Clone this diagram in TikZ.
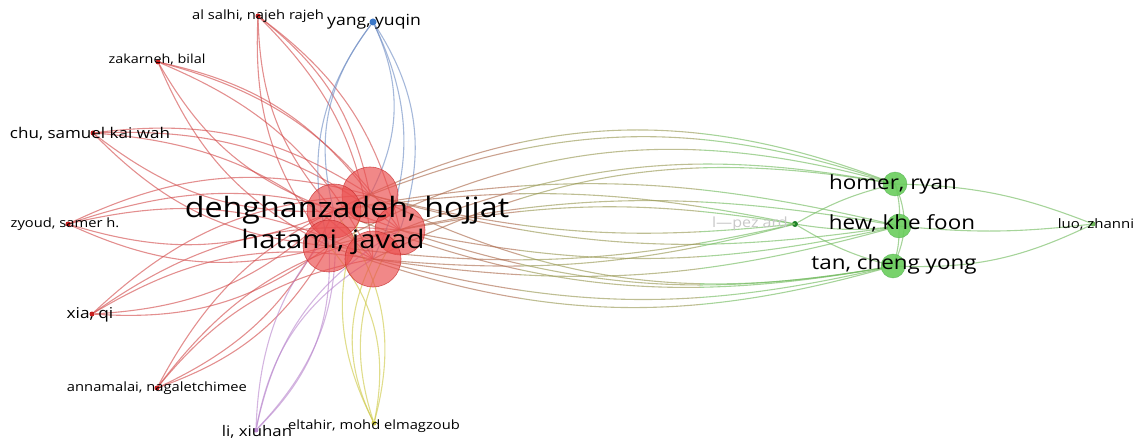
\documentclass[tikz,border=0pt]{standalone}
\usepackage{fontspec}
\setmainfont{Open Sans}[FakeStretch=1.15]
\definecolor{hubred}{RGB}{235,80,80}
\definecolor{hubdark}{RGB}{196,40,40}
\definecolor{redline}{RGB}{210,75,75}
\definecolor{blueline}{RGB}{110,140,195}
\definecolor{purpleline}{RGB}{185,135,205}
\definecolor{yellowline}{RGB}{205,200,70}
\definecolor{greenline}{RGB}{112,185,92}
\definecolor{oliveline}{RGB}{150,150,80}
\definecolor{brownline}{RGB}{170,105,75}
\definecolor{greennode}{RGB}{105,205,92}
\definecolor{greendark}{RGB}{60,160,60}
\definecolor{dotred}{RGB}{200,30,30}
\definecolor{dotblue}{RGB}{60,120,200}
\definecolor{dotgreen}{RGB}{30,130,40}
\definecolor{faint}{RGB}{200,200,200}
\newcommand\longedges[1]{%
  \foreach \h/\b in {H1/20,H2/24,H3/16,H4/22,H5/18}{\draw[edge,draw=#1] (homer.center) to[bend right=\b] (\h.center);}
  \foreach \h/\b in {H1/left,H2/right,H3/left,H4/right,H5/left}{\draw[edge,draw=#1] (hew.center) to[bend \b=12] (\h.center);}
  \foreach \h/\b in {H1/18,H2/16,H3/14,H4/18,H5/14}{\draw[edge,draw=#1] (tan.center) to[bend left=\b] (\h.center);}
  \foreach \h/\b in {H1/left,H2/right,H3/right,H4/left,H5/left}{\draw[edge,draw=#1] (lopez.center) to[bend \b=10] (\h.center);}
}
\begin{document}
\begin{tikzpicture}[x=1pt,y=-1pt,
  edge/.style={line width=1.1pt,opacity=0.62},
  hub/.style={circle,minimum size=#1,inner sep=0pt,fill=hubred,fill opacity=0.68,draw=hubdark,draw opacity=0.7,line width=0.6pt},
  gnode/.style={circle,minimum size=24pt,inner sep=0pt,fill=greennode,fill opacity=0.9,draw=greendark,draw opacity=0.5,line width=0.5pt},
  dot/.style={circle,minimum size=#1,inner sep=0pt},
  lbl/.style={inner sep=0pt,text=black,font=\fontsize{#1}{#1}\selectfont}]
\useasboundingbox (0,0) rectangle (1136,441);
% nodes
\node[dot=5pt,fill=dotred] (salhi) at (258,16) {};
\node[dot=7pt,fill=dotblue] (yang) at (373,22) {};
\node[dot=5pt,fill=dotred] (zak) at (158,62) {};
\node[dot=5pt,fill=dotred] (chu) at (93,133) {};
\node[dot=5pt,fill=dotred] (zy) at (68,224) {};
\node[dot=5pt,fill=dotred] (xia) at (92,314) {};
\node[dot=5pt,fill=dotred] (anna) at (157,388) {};
\node[dot=5pt,fill=purpleline] (li) at (256,430) {};
\node[dot=5pt,fill=yellowline] (elt) at (374,423) {};
\node[dot=6pt,fill=dotgreen] (lopez) at (795,224) {};
\node[dot=5pt,fill=greenline] (luo) at (1093,224) {};
\coordinate (H1) at (370,195);
\coordinate (H2) at (334,211);
\coordinate (H3) at (400,230);
\coordinate (H4) at (329,246);
\coordinate (H5) at (373,259);
\coordinate (homer) at (895,184);
\coordinate (hew) at (899,226);
\coordinate (tan) at (893,266);
% red edges
\foreach \p in {salhi,zak,chu,zy,xia,anna}{
  \foreach \h/\b in {H1/left,H2/right,H3/left,H4/right,H5/left}{
    \draw[edge,draw=redline] (\p) to[bend \b=20] (\h);}}
\foreach \h/\b in {H1/left,H2/right,H3/left,H4/right,H5/left}{
  \draw[edge,draw=blueline] (yang) to[bend \b=26] (\h);
  \draw[edge,draw=purpleline] (li) to[bend \b=24] (\h);
  \draw[edge,draw=yellowline] (elt) to[bend \b=26] (\h);}
% long edges with colour bands
\begin{scope}\clip (0,0) rectangle (520,441); \longedges{brownline}\end{scope}
\begin{scope}\clip (520,0) rectangle (700,441); \longedges{oliveline}\end{scope}
\begin{scope}\clip (700,0) rectangle (1136,441); \longedges{greenline}\end{scope}
% green cluster edges
\draw[edge,draw=greenline] (homer) to[bend left=10] (hew);
\draw[edge,draw=greenline] (hew) to[bend left=10] (tan);
\draw[edge,draw=greenline] (homer) to[bend left=25] (tan);
\draw[edge,draw=greenline] (lopez) to[bend left=8] (homer);
\draw[edge,draw=greenline] (lopez) to[bend right=8] (hew);
\draw[edge,draw=greenline] (lopez) to[bend right=8] (tan);
\draw[edge,draw=greenline] (homer) to[bend left=10] (luo);
\draw[edge,draw=greenline] (hew) to[bend right=6] (luo);
\draw[edge,draw=greenline] (tan) to[bend right=14] (luo);
% hubs
\node[hub=56pt] (h1) at (H1) {};
\node[hub=54pt] (h2) at (H2) {};
\node[hub=50pt] (h3) at (H3) {};
\node[hub=52pt] (h4) at (H4) {};
\node[hub=56pt] (h5) at (H5) {};
\node[gnode] (gh) at (homer) {};
\node[gnode] (gw) at (hew) {};
\node[gnode] (gt) at (tan) {};
% labels
\node[lbl=12.8] (Lsalhi) at (258,16) {al salhi, najeh rajeh};
\node[lbl=15.3] (Lyang) at (374,22) {yang, yuqin};
\node[lbl=12.5] (Lzak) at (157,60) {zakarneh, bilal};
\node[lbl=14.8] (Lchu) at (90,134) {chu, samuel kai wah};
\node[lbl=12.8] (Lzy) at (65,224) {zyoud, samer h.};
\node[lbl=15] (Lxia) at (90,315) {xia, qi};
\node[lbl=12.8] (Lanna) at (157,388) {annamalai, nagaletchimee};
\node[lbl=14.6] (Lli) at (257,432) {li, xiuhan};
\node[lbl=12.8] (Lelt) at (374,426) {eltahir, mohd elmagzoub};
\node[lbl=19.5] (Lhomer) at (893,184) {homer, ryan};
\node[lbl=19.5] (Lhew) at (902,223) {hew, khe foon};
\node[lbl=19.5] (Ltan) at (894,264) {tan, cheng yong};
\node[lbl=13] (Lluo) at (1096,224) {luo, zhanni};
\node[lbl=14,text=faint,anchor=east] (Llopez) at (788,224) {l—pez ard};
\node[lbl=28] (Ldeh) at (347,210) {dehghanzadeh, hojjat};
\node[lbl=25.5] (Lhat) at (333,242) {hatami, javad};
\end{tikzpicture}
\end{document}
